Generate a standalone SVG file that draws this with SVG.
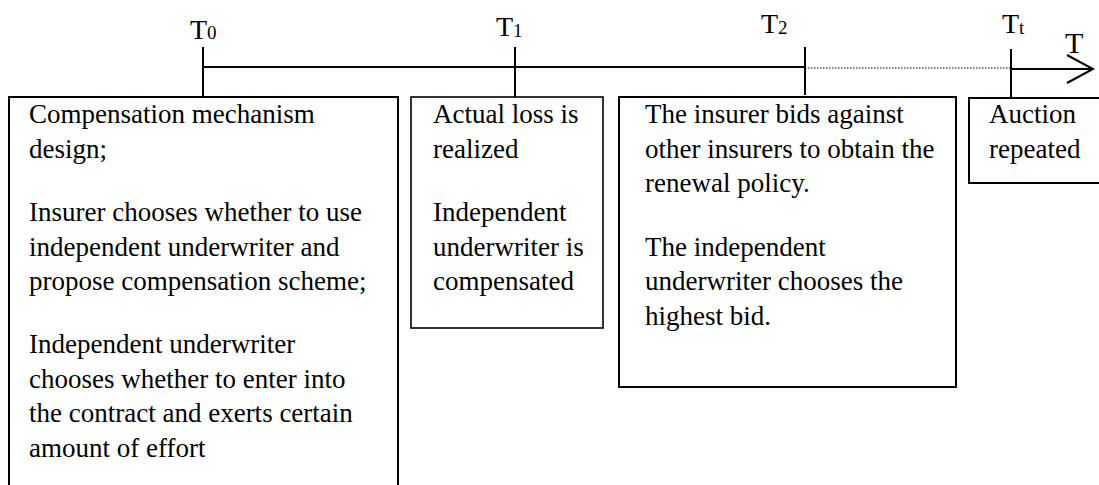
<svg xmlns="http://www.w3.org/2000/svg" width="1099" height="485" viewBox="0 0 1099 485">
  <style>
    .box { fill: #ffffff; stroke: #000000; stroke-width: 2; }
    .axis { stroke: #000000; stroke-width: 2; fill: none; }
    .dots { stroke: #000000; stroke-width: 1.2; stroke-dasharray: 1.5 1.5; fill: none; }
    .txt { font-family: "Liberation Serif", "Times New Roman", serif; font-size: 27px; fill: #000000; }
    .lbl { font-family: "Liberation Serif", "Times New Roman", serif; font-size: 28px; fill: #000000; }
    .sub { font-size: 19px; }
  </style>
  <rect width="1099" height="485" fill="#ffffff"/>

  <!-- time axis -->
  <g id="connectors">
    <line class="axis" x1="203" y1="67" x2="805" y2="67"/>
    <line class="dots" x1="805" y1="68" x2="1011" y2="68"/>
    <line class="axis" x1="1011" y1="69" x2="1092" y2="69"/>
    <polyline class="axis" points="1067,55 1093,69 1067,83"/>
    <line class="axis" x1="203" y1="47" x2="203" y2="97"/>
    <line class="axis" x1="515" y1="47" x2="515" y2="97"/>
    <line class="axis" x1="805" y1="47" x2="805" y2="95"/>
    <line class="axis" x1="1011" y1="49" x2="1011" y2="98"/>
  </g>

  <!-- time labels -->
  <g id="labels">
    <text class="lbl" x="190" y="39">T<tspan class="sub" dy="0">0</tspan></text>
    <text class="lbl" x="496" y="36">T<tspan class="sub" dy="1">1</tspan></text>
    <text class="lbl" x="761" y="33">T<tspan class="sub" dy="1">2</tspan></text>
    <text class="lbl" x="1002" y="33">T<tspan class="sub" dy="1">t</tspan></text>
    <text class="lbl" x="1065" y="53" style="font-size:30px">T</text>
  </g>

  <!-- stage at T0 -->
  <g id="stage-t0">
    <rect class="box" x="9" y="97" width="389" height="400"/>
    <text class="txt" x="29" y="123">Compensation mechanism</text>
    <text class="txt" x="29" y="157.5">design;</text>
    <text class="txt" x="29" y="221">Insurer chooses whether to use</text>
    <text class="txt" x="29" y="255.5">independent underwriter and</text>
    <text class="txt" x="29" y="290">propose compensation scheme;</text>
    <text class="txt" x="29" y="353">Independent underwriter</text>
    <text class="txt" x="29" y="387.5">chooses whether to enter into</text>
    <text class="txt" x="29" y="422">the contract and exerts certain</text>
    <text class="txt" x="29" y="456.5">amount of effort</text>
  </g>

  <!-- stage at T1 -->
  <g id="stage-t1">
    <rect class="box" x="411" y="97" width="192" height="231" style="stroke-width:1.6"/>
    <text class="txt" x="433" y="123">Actual loss is</text>
    <text class="txt" x="433" y="157.5">realized</text>
    <text class="txt" x="433" y="221">Independent</text>
    <text class="txt" x="433" y="255.5">underwriter is</text>
    <text class="txt" x="433" y="290">compensated</text>
  </g>

  <!-- stage at T2 -->
  <g id="stage-t2">
    <rect class="box" x="619" y="97" width="337" height="290"/>
    <text class="txt" x="645" y="123">The insurer bids against</text>
    <text class="txt" x="645" y="157.5">other insurers to obtain the</text>
    <text class="txt" x="645" y="192">renewal policy.</text>
    <text class="txt" x="645" y="255.5">The independent</text>
    <text class="txt" x="645" y="290">underwriter chooses the</text>
    <text class="txt" x="645" y="324.5">highest bid.</text>
  </g>

  <!-- stage at Tt -->
  <g id="stage-tt">
    <rect class="box" x="969" y="98" width="140" height="85"/>
    <text class="txt" x="989" y="123">Auction</text>
    <text class="txt" x="989" y="157.5">repeated</text>
  </g>
</svg>
